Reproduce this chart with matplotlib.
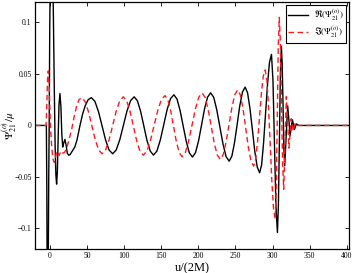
import matplotlib
matplotlib.use("Agg")
import matplotlib.pyplot as plt

plt.rcParams['font.family'] = ['Liberation Serif', 'DejaVu Serif']
plt.rcParams['mathtext.fontset'] = 'stix'

re_u = [-20, -4.8, -4.2, -3.6, -3.0, -2.4, -1.6, -1.0, -0.2, 0.8, 2.2, 3.5, 4.6,
        5.8, 7.0, 8.0, 9.0, 10.0, 11.0, 12.2, 13.5, 14.8, 16.0, 17.2, 18.6,
        20.2, 21.8, 23.4, 25.5, 27.5, 30, 33.5, 36.5, 40.5, 44, 47.5, 51.5,
        55.8, 60.6, 65.4, 70.2, 74.9, 79.7,
        84.5, 89.3, 94.2, 99.0, 103.8, 108.7,
        113.5, 117.8, 122.2, 126.5, 130.8, 135.2,
        139.5, 144.1, 148.7, 153.3, 157.8, 162.4,
        167, 171.2, 175.3, 179.5, 183.7, 187.8,
        192, 196.1, 200.2, 204.3, 208.3, 212.4,
        216.5, 220.7, 224.8, 229.0, 233.2, 237.3,
        241.5, 245.1, 248.7, 252.3, 255.8, 259.4,
        263, 266.3, 269.5, 272.8, 276.0, 279.3,
        282.5, 285.2, 287.8, 290.5, 293.2, 295.8,
        298.5, 300.5, 302.5, 304.5,
        306.5, 307.8, 309.2, 310.5,
        311.8, 312.9, 314.1, 315.2,
        316.3, 318.3, 320.3, 322.0, 323.6, 325.1, 326.7, 328.0, 329.4,
        332, 335, 403]
re_v = [0, 0, -0.06, -0.17, -0.20, -0.15, -0.05, 0.0, 0.10, 0.16, 0.19, 0.16, 0.11,
        0.04, -0.02, -0.048, -0.057, -0.045, -0.015, 0.020, 0.031, 0.018, -0.008,
        -0.021, -0.017, -0.0136, -0.019, -0.027, -0.029, -0.028, -0.025, -0.021,
        -0.014, 0.0, 0.011, 0.019, 0.025,
        0.027, 0.0234, 0.0134, -0.0003, -0.0139, -0.0239,
        -0.0275, -0.0238, -0.0137, 0.0002, 0.0140, 0.0241,
        0.0278, 0.0240, 0.0137, -0.0005, -0.0147, -0.0250,
        -0.0288, -0.0249, -0.0142, 0.0005, 0.0152, 0.0259,
        0.0298, 0.0257, 0.0147, -0.0005, -0.0156, -0.0266,
        -0.0307, -0.0265, -0.0151, 0.0005, 0.0161, 0.0275,
        0.0317, 0.0273, 0.0151, -0.0015, -0.0181, -0.0303,
        -0.0347, -0.0299, -0.0167, 0.0013, 0.0192, 0.0324,
        0.0372, 0.0316, 0.0164, -0.0044, -0.0252, -0.0404,
        -0.046, -0.0383, -0.0173, 0.0115, 0.0403, 0.0613,
        0.069, 0.0437, -0.0175, -0.0787,
        -0.104, -0.0776, -0.0135, 0.0506,
        0.077, 0.0601, 0.019, -0.0221,
        -0.039, -0.010, 0.019, 0.0045, -0.010, -0.002, 0.0055, 0.001, -0.004,
        0.0015, 0, 0]

# imaginary part (red, dashed)
im_u = [-20, -5.2, -4.2, -3.2, -2.2, -1.2, 0, 1, 2.5, 4.2, 6, 7.5, 9, 11, 12.5,
        14.2, 15.7, 17.5, 19.3, 21.5, 23.4, 26, 29.2, 32.5, 36, 39.2,
        42.7, 47.3, 51.9, 56.5, 61.1, 65.7,
        70.3, 75.1, 79.8, 84.6, 89.4, 94.1,
        98.9, 103.4, 107.9, 112.4, 116.8, 121.3,
        125.8, 130.7, 135.5, 140.4, 145.3, 150.1,
        155, 158.8, 162.7, 166.5, 170.3, 174.2,
        178, 182.5, 187, 191.5, 196, 200.5,
        205, 209.1, 213.2, 217.3, 221.3, 225.4,
        229.5, 233.4, 237.3, 241.3, 245.2, 249.1,
        253, 256.6, 260.2, 263.8, 267.3, 270.9,
        274.5, 277.1, 279.7, 282.3, 284.8, 287.4,
        290, 292.3, 294.5, 296.8, 299, 301.3,
        303.5, 304.9, 306.3, 307.6,
        309, 310.5, 312, 313.5,
        315, 316.8, 318.5, 320.3, 322, 323.5, 325, 326.4, 327.8, 330.5,
        333, 403]
im_v = [0, 0, 0.02, 0.045, 0.053, 0.042, 0.015, -0.005, -0.022, -0.033, -0.036,
        -0.032, -0.025, -0.027, -0.029, -0.026, -0.025, -0.027, -0.0265, -0.024,
        -0.020, -0.013, -0.004, 0.008, 0.019, 0.025,
        0.027, 0.0234, 0.0134, -0.0003, -0.0139, -0.0239,
        -0.0275, -0.0238, -0.0137, 0.0002, 0.0140, 0.0241,
        0.0278, 0.0240, 0.0137, -0.0005, -0.0147, -0.0250,
        -0.0288, -0.0249, -0.0144, 0.0001, 0.0146, 0.0251,
        0.029, 0.0250, 0.0142, -0.0007, -0.0156, -0.0264,
        -0.0304, -0.0263, -0.0149, 0.0006, 0.0160, 0.0274,
        0.0315, 0.0272, 0.0154, -0.0008, -0.0169, -0.0287,
        -0.033, -0.0285, -0.0161, 0.0008, 0.0176, 0.0300,
        0.0345, 0.0295, 0.0160, -0.0025, -0.0210, -0.0345,
        -0.0395, -0.0332, -0.0161, 0.0073, 0.0306, 0.0477,
        0.054, 0.0443, 0.0178, -0.0185, -0.0548, -0.0813,
        -0.091, -0.0624, 0.007, 0.0764,
        0.105, 0.0806, 0.0215, -0.0376,
        -0.062, -0.017, 0.028, 0.003, -0.022, -0.0078, 0.0065, 0.0005, -0.0055,
        0.0025, 0, 0]

xticks = [0, 50, 100, 150, 200, 250, 300, 350, 400]
yticks = [-0.1, -0.05, 0, 0.05, 0.1]
ytick_labels = ['\u22120.1', '\u22120.05', '0', '0.05', '0.1']

fig = plt.figure(figsize=(3.58, 2.73), dpi=100)
ax = fig.add_axes([0.098, 0.088, 0.877, 0.905])

ax.plot(re_u, re_v, color='black', lw=1.0,
        label=r'$\Re(\Psi^{(o)}_{21})$')
ax.plot(im_u, im_v, color='#ff1a1a', lw=1.0, ls=(0, (4, 2.5)),
        label=r'$\Im(\Psi^{(o)}_{21})$')

ax.set_xlim(-20, 403)
ax.set_ylim(-0.12, 0.12)
ax.set_xticks(xticks)
ax.set_yticks(yticks)
ax.set_yticklabels(ytick_labels)
ax.tick_params(direction='in', top=True, right=True, labelsize=5.5, length=3,
               width=0.6, pad=2.5)
for s in ax.spines.values():
    s.set_linewidth(0.9)

ax.set_xlabel('u/(2M)', fontsize=9, labelpad=1)
ax.set_ylabel(r'$\Psi^{(o)}_{21}/\mu$', fontsize=8)
ax.yaxis.set_label_coords(-0.05, 0.5)

leg = ax.legend(loc='upper right', fontsize=6.5, frameon=True, fancybox=False,
                edgecolor='black', framealpha=1, borderpad=0.3,
                handlelength=2.2, handletextpad=0.6, labelspacing=0.2,
                borderaxespad=0.3)
leg.get_frame().set_linewidth(0.8)

fig.savefig('out.png', dpi=100)
